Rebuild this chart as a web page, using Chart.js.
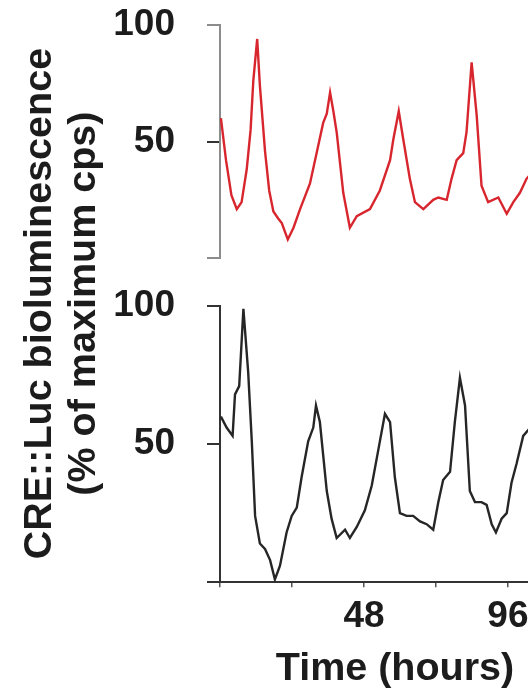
<!DOCTYPE html>
<html>
<head>
<meta charset="utf-8">
<script src="https://cdn.jsdelivr.net/npm/chart.js@4.4.1/dist/chart.umd.min.js"></script>
<style>
html, body { margin: 0; padding: 0; background: #fff; overflow: hidden; }
#wrap { width: 570px; height: 693px; }
</style>
</head>
<body>
<div id="wrap"><canvas id="lucChart" width="570" height="693"></canvas></div>
<script>
// top trace (red)
var hoursRed = [0.3, 2.0, 3.8, 5.6, 7.2, 8.9, 10.2, 11.1, 12.4, 13.3, 15.0, 16.4, 17.8, 19.4, 20.6, 22.6, 24.5, 26.7,
    30.0, 32.2, 34.4, 35.6, 36.7, 37.8, 38.9, 41.1, 43.3, 45.6, 50.0, 53.3, 56.7, 57.8, 59.6, 61.1, 63.3, 65.0,
    67.8, 71.1, 72.8, 75.6, 77.2, 78.9, 81.1, 82.2, 83.9, 85.6, 87.2, 89.4, 92.8, 95.6, 97.8, 100.0, 102.2, 103.5];
var redValues = [60, 42, 27, 21, 24, 38, 55, 76, 94, 74, 46, 29, 20, 17, 15, 8, 13, 21,
    32, 45, 58, 62, 71, 63, 54, 28, 13, 18, 21, 29, 42, 51, 63, 51, 34, 24,
    21, 25, 26, 25, 34, 42, 45, 54, 84, 61, 31, 24, 26, 19, 24, 28, 34, 36];

// bottom trace (black)
var hoursBlack = [0.3, 2.2, 4.2, 5.0, 6.4, 7.8, 9.4, 10.6, 11.7, 13.3, 15.0, 16.7, 18.3, 20.0, 22.2, 23.9, 25.6, 27.2,
    29.4, 31.1, 32.0, 33.3, 35.6, 37.2, 38.9, 41.7, 43.3, 45.6, 48.3, 50.6, 52.8, 55.0, 56.7, 58.3, 60.0, 62.2,
    64.4, 66.7, 68.9, 71.1, 72.8, 74.4, 76.7, 78.3, 80.0, 81.7, 83.3, 85.0, 87.2, 88.9, 90.6, 92.0, 93.9, 95.6,
    97.2, 98.9, 101.1, 103.5];
var blackValues = [60, 56, 53, 68, 71, 99, 76, 51, 24, 14, 12, 8, 1, 6, 18, 24, 27, 38,
    51, 56, 64, 58, 33, 23, 16, 19, 16, 20, 26, 35, 48, 61, 58, 38, 25, 24,
    24, 22, 21, 19, 29, 37, 40, 58, 74, 64, 33, 29, 29, 28, 21, 18, 23, 25,
    36, 43, 53, 56];

// axes
var xTicks = [0, 24, 48, 72, 96];
var xTickLabels = ["", "", "48", "", "96"];
var yTicks = [0, 50, 100];
var yTickLabels = ["", "50", "100"];
var xTitle = "Time (hours)";
var yTitle = ["CRE::Luc bioluminescence", "(% of maximum cps)"];

var fontFamily = "'Liberation Sans', Arial, Helvetica, sans-serif";
var ink = "#1c1c1c";

function toPoints(xs, ys) {
    var pts = [];
    for (var i = 0; i < xs.length; i++) {
        pts.push({x: xs[i], y: ys[i]});
    }
    return pts;
}

function yTickLabel(value) {
    var i = yTicks.indexOf(value);
    return i < 0 ? "" : yTickLabels[i];
}

function panelAxis(order, share, lineColor, tickColor) {
    return {
        type: "linear",
        position: "left",
        stack: "panels",
        stackWeight: share,
        weight: order,
        min: 0,
        max: 100,
        afterBuildTicks: function (scale) {
            scale.ticks = yTicks.map(function (v) { return {value: v}; });
        },
        // fixed width so the "100" labels are not clipped, no extra room above
        afterFit: function (scale) {
            scale.width = 105;
            scale.paddingTop = 0;
            scale.paddingBottom = 0;
        },
        border: {color: lineColor, width: 2},
        grid: {
            drawOnChartArea: false,
            tickLength: 13,
            lineWidth: 2,
            color: tickColor
        },
        ticks: {
            color: ink,
            padding: 32,
            font: {family: fontFamily, size: 37, weight: "bold"},
            callback: yTickLabel
        }
    };
}

var ctx = document.getElementById("lucChart");

var lucChart = new Chart(ctx, {
    type: "line",
    data: {
        datasets: [{
            label: "top",
            data: toPoints(hoursRed, redValues),
            yAxisID: "yTop",
            borderColor: "rgb(216,38,46)",
            borderWidth: 2.4,
            pointRadius: 0,
            tension: 0,
            fill: false
        }, {
            label: "bottom",
            data: toPoints(hoursBlack, blackValues),
            yAxisID: "yBot",
            borderColor: "#262626",
            borderWidth: 2.4,
            pointRadius: 0,
            tension: 0,
            fill: false
        }]
    },
    options: {
        responsive: false,
        animation: false,
        events: [],
        layout: {padding: {top: 25, right: 0, bottom: 1, left: 0}},
        scales: {
            x: {
                type: "linear",
                min: 0,
                max: 116.7,
                afterBuildTicks: function (scale) {
                    scale.ticks = xTicks.map(function (v) { return {value: v}; });
                },
                border: {color: "#333", width: 2},
                grid: {drawOnChartArea: false, tickLength: 5, lineWidth: 1.5, color: "#555"},
                ticks: {
                    color: ink,
                    padding: 7.5,
                    maxRotation: 0,
                    autoSkip: false,
                    font: {family: fontFamily, size: 37, weight: "bold"},
                    callback: function (value) {
                        var i = xTicks.indexOf(value);
                        return i < 0 ? "" : xTickLabels[i];
                    }
                },
                title: {
                    display: true,
                    text: xTitle,
                    color: ink,
                    padding: {top: 0, bottom: 0},
                    font: {family: fontFamily, size: 39.5, weight: "bold", lineHeight: 1.15}
                }
            },
            yTop: panelAxis(3, 233, "#8c8c8c", function (c) {
                return c.tick && c.tick.value === 50 ? "#333" : "#8c8c8c";
            }),
            // empty gap between the two panels
            yGap: {type: "linear", display: false, stack: "panels", stackWeight: 48, weight: 2, min: 0, max: 1},
            yBot: panelAxis(1, 276, "#333", "#333")
        },
        plugins: {
            legend: {display: false},
            tooltip: {enabled: false},
            title: {
                display: true,
                position: "left",
                fullSize: false,
                text: yTitle,
                color: ink,
                padding: {top: 18, bottom: 9},
                font: {family: fontFamily, size: 39.5, weight: "bold", lineHeight: 1.114}
            }
        }
    }
});
</script>
</body>
</html>
